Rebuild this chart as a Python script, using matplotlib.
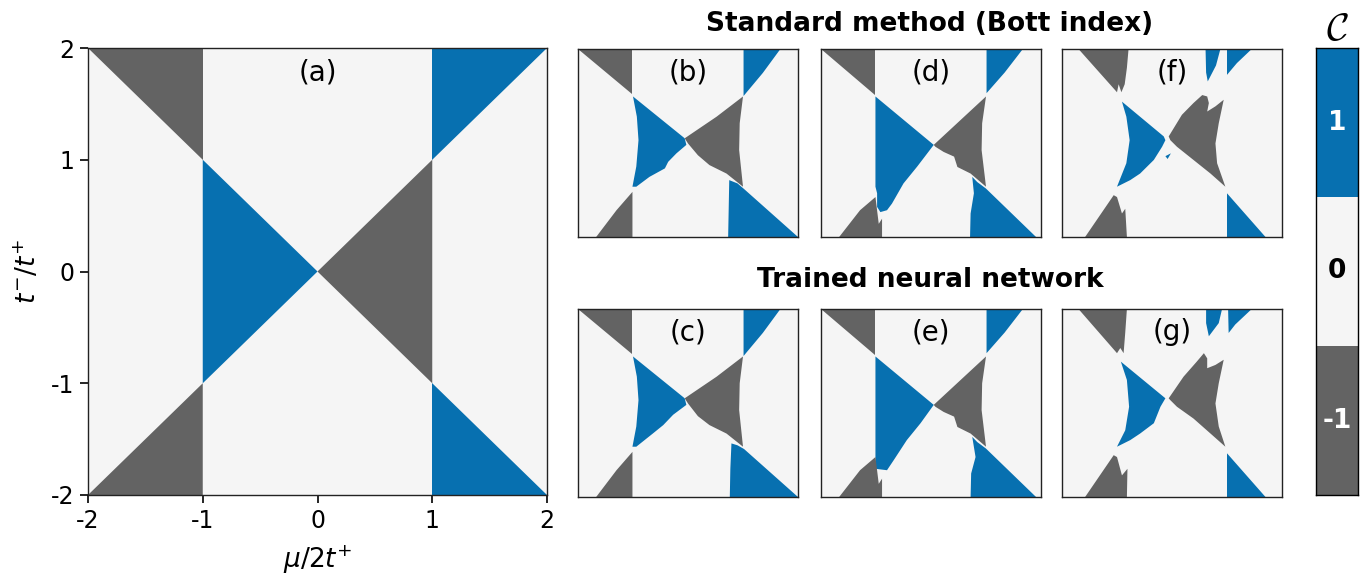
import matplotlib
matplotlib.use("Agg")
import matplotlib.pyplot as plt
from matplotlib.colors import ListedColormap, BoundaryNorm
import numpy as np

# ---------------- data ----------------
chern_levels = [-1, 0, 1]
level_colors = ["#636363", "#f5f5f5", "#0770b0"]
level_labels = ["-1", "0", "1"]

x_ticks = [-2, -1, 0, 1, 2]
y_ticks = [-2, -1, 0, 1, 2]

# Phase regions: (Chern number, x-vertices, y-vertices) in (mu/2t+, t-/t+)
panel_a = [
    (-1, [-2, -1, -1], [2, 2, 1]),
    (1, [1, 1, 2], [1, 2, 2]),
    (1, [-1, 0, -1], [1, 0, -1]),
    (-1, [1, 0, 1], [1, 0, -1]),
    (-1, [-2, -1, -1], [-2, -1, -2]),
    (1, [1, 1, 2], [-1, -2, -2]),
]

panel_b = [
    (-1, [-2, -1.01, -1.01], [2, 2, 1.05]),
    (1, [1.01, 1.68, 1.36, 1.01], [2, 2, 1.49, 1.0]),
    (1, [-1.0, -0.06, -0.03, -0.21, -0.36, -0.42, -0.70, -0.94, -1.01, -0.94, -0.90, -0.93],
        [0.99, 0.10, -0.04, -0.22, -0.40, -0.54, -0.72, -0.93, -0.93, -0.50, 0.06, 0.56]),
    (-1, [-0.06, 0.52, 1.0, 0.94, 0.93, 1.0, 0.70, 0.39, 0.18, 0.0],
         [0.10, 0.56, 0.99, 0.42, -0.15, -0.93, -0.65, -0.47, -0.26, -0.01]),
    (-1, [-1.67, -1.30, -1.01, -1.01], [-2, -1.43, -1.04, -2]),
    (1, [0.75, 0.90, 1.02, 2.0, 0.73, 0.74], [-0.79, -0.86, -0.98, -2, -2, -1.40]),
]

panel_c = [
    (-1, [-2, -1.01, -1.01], [2, 2, 1.05]),
    (1, [1.01, 1.68, 1.36, 1.01], [2, 2, 1.49, 1.0]),
    (1, [-1.0, -0.06, -0.03, -0.27, -0.45, -0.64, -0.94, -1.01, -0.94, -0.90, -0.93],
        [0.99, 0.10, -0.04, -0.25, -0.47, -0.65, -0.93, -0.93, -0.50, 0.06, 0.56]),
    (-1, [-0.06, 0.52, 1.0, 0.94, 0.93, 1.0, 0.70, 0.39, 0.18, 0.0],
         [0.10, 0.56, 0.99, 0.42, -0.15, -0.93, -0.65, -0.47, -0.28, -0.01]),
    (-1, [-1.67, -1.30, -1.01, -1.01], [-2, -1.43, -1.04, -2]),
    (1, [0.79, 0.90, 1.02, 2.0, 0.76, 0.77], [-0.86, -0.90, -0.98, -2, -2, -1.40]),
]

panel_d = [
    (-1, [-2, -1.01, -1.01], [2, 2, 1.02]),
    (1, [1.01, 1.67, 1.34, 1.01], [2, 2, 1.50, 1.06]),
    (1, [-1.01, 0.05, -0.25, -0.50, -0.71, -0.80, -0.92, -0.98, -0.98, -1.01],
        [0.99, -0.04, -0.50, -0.86, -1.29, -1.43, -1.47, -1.36, -1.07, -0.93]),
    (-1, [0.05, 1.0, 0.93, 0.92, 1.0, 0.72, 0.48, 0.42, 0.23, 0.08],
         [-0.04, 0.99, 0.42, -0.15, -0.93, -0.65, -0.51, -0.29, -0.19, -0.08]),
    (-1, [-1.67, -1.29, -1.01, -0.95, -0.89, -0.89], [-2, -1.43, -1.15, -1.72, -1.61, -2]),
    (1, [0.75, 0.84, 1.0, 1.91, 0.71, 0.72, 0.78], [-0.72, -0.83, -0.97, -2, -2, -1.50, -1.07]),
]

panel_e = [
    (-1, [-2, -1.01, -1.01], [2, 2, 1.02]),
    (1, [1.01, 1.67, 1.34, 1.01], [2, 2, 1.50, 1.06]),
    (1, [-1.01, 0.05, -0.19, -0.44, -0.68, -0.80, -1.01, -1.01],
        [0.99, -0.04, -0.43, -0.79, -1.22, -1.43, -1.40, -0.93]),
    (-1, [0.05, 1.0, 0.93, 0.92, 1.0, 0.72, 0.48, 0.42, 0.23, 0.08],
         [-0.04, 0.99, 0.42, -0.15, -0.93, -0.65, -0.51, -0.29, -0.19, -0.08]),
    (-1, [-1.67, -1.29, -1.01, -0.95, -0.89, -0.89], [-2, -1.43, -1.15, -1.72, -1.61, -2]),
    (1, [0.75, 0.84, 1.0, 1.91, 0.72, 0.73, 0.81], [-0.72, -0.83, -0.97, -2, -2, -1.50, -1.15]),
]

panel_f = [
    (-1, [-1.70, -0.79, -0.82, -0.86, -0.92, -0.97, -1.0],
         [2, 2, 1.60, 1.25, 1.08, 1.25, 1.08]),
    (1, [0.61, 0.88, 0.80, 0.65, 0.62], [2, 2, 1.65, 1.31, 1.50]),
    (1, [1.0, 1.45, 1.18, 1.0], [2, 2, 1.70, 1.45]),
    (1, [-0.91, -0.15, -0.12, -0.18, -0.33, -0.58, -0.76, -1.0, -0.83, -0.77, -0.83],
        [0.88, 0.14, 0.06, -0.08, -0.36, -0.65, -0.79, -0.93, -0.43, 0.06, 0.56]),
    (1, [-0.12, -0.02, -0.08], [-0.28, -0.22, -0.34]),
    (-1, [-0.06, 0.18, 0.39, 0.55, 0.64, 0.67, 0.64, 0.79, 0.94, 0.85, 0.79, 0.82, 0.97,
          0.70, 0.39, 0.09, -0.03],
         [0.14, 0.60, 0.85, 1.02, 0.99, 0.85, 0.67, 0.78, 0.92, 0.42, -0.01, -0.43, -0.93,
          -0.65, -0.36, -0.08, 0.06]),
    (-1, [-1.58, -1.06, -1.0, -0.91, -0.85, -0.82], [-2, -1.11, -1.15, -1.50, -1.40, -2]),
    (1, [1.0, 1.70, 1.0], [-1.07, -2, -2]),
]

panel_g = [
    (-1, [-1.70, -0.82, -0.85, -0.88, -0.94, -1.0],
         [2, 2, 1.50, 1.06, 1.17, 1.06]),
    (1, [0.62, 0.91, 0.85, 0.67, 0.62], [2, 2, 1.70, 1.42, 1.70]),
    (1, [1.02, 1.45, 1.15, 1.03], [2, 2, 1.67, 1.49]),
    (1, [-0.93, -0.12, -0.21, -0.33, -0.58, -0.76, -1.0, -0.85, -0.78, -0.82],
        [0.88, 0.10, -0.08, -0.43, -0.65, -0.79, -0.93, -0.58, -0.08, 0.49]),
    (-1, [-0.06, 0.21, 0.45, 0.58, 0.64, 0.64, 0.79, 0.94, 0.85, 0.79, 0.85, 0.97,
          0.70, 0.39, 0.09, -0.03],
         [0.10, 0.56, 0.88, 1.06, 0.95, 0.74, 0.81, 0.92, 0.42, -0.01, -0.50, -0.93,
          -0.65, -0.33, -0.08, 0.06]),
    (-1, [-1.58, -1.06, -1.0, -0.91, -0.81, -0.82], [-2, -1.11, -1.15, -1.54, -1.40, -2]),
    (1, [1.0, 1.70, 1.0], [-1.07, -2, -2]),
]

small_panels = [("(b)", panel_b), ("(d)", panel_d), ("(f)", panel_f),
                ("(c)", panel_c), ("(e)", panel_e), ("(g)", panel_g)]

title_top = "Standard method (Bott index)"
title_bottom = "Trained neural network"

# ---------------- drawing ----------------
plt.rcParams["font.family"] = ["DejaVu Sans"]
plt.rcParams["mathtext.fontset"] = "dejavusans"

W, H = 1369, 574
fig = plt.figure(figsize=(W / 100, H / 100), dpi=100)

color_of = dict(zip(chern_levels, level_colors))


def px_axes(x0, y0, x1, y1):
    return fig.add_axes([x0 / W, 1 - y1 / H, (x1 - x0) / W, (y1 - y0) / H])


def draw_regions(ax, regions):
    ax.set_facecolor(color_of[0])
    for lev, xs, ys in regions:
        ax.fill(xs, ys, color=color_of[lev], lw=0, antialiased=True)
    ax.set_xlim(-2, 2)
    ax.set_ylim(-2, 2)
    for s in ax.spines.values():
        s.set_linewidth(1.0)
        s.set_color("#222222")


# main panel
ax = px_axes(88, 48, 547, 495)
draw_regions(ax, panel_a)
ax.set_xticks(x_ticks)
ax.set_yticks(y_ticks)
ax.set_xticklabels([str(v) for v in x_ticks])
ax.set_yticklabels([str(v) for v in y_ticks])
ax.tick_params(labelsize=17, length=6, width=1.2, pad=4)
ax.set_xlabel(r"$\mu/2t^{+}$", fontsize=19, labelpad=8)
ax.set_ylabel(r"$t^{-}/t^{+}$", fontsize=19, labelpad=6)
ax.text(0, 1.78, "(a)", ha="center", va="center", fontsize=20)

# small panels
lefts = [578, 821, 1062]
tops = [49, 309]
for i, (lab, regions) in enumerate(small_panels):
    r, c = divmod(i, 3)
    x0 = lefts[c]
    y0 = tops[r]
    a = px_axes(x0, y0, x0 + 220, y0 + 188)
    draw_regions(a, regions)
    a.set_xticks([])
    a.set_yticks([])
    a.text(0, 1.5, lab, ha="center", va="center", fontsize=20)

fig.text(930 / W, 1 - 24 / H, title_top, ha="center", va="center",
         fontsize=19, fontweight="bold")
fig.text(930 / W, 1 - 280 / H, title_bottom, ha="center", va="center",
         fontsize=19, fontweight="bold")

# colorbar
cax = px_axes(1316, 48, 1358, 495)
cmap = ListedColormap(level_colors)
norm = BoundaryNorm([-1.5, -0.5, 0.5, 1.5], cmap.N)
cax.pcolormesh([0, 1], [-1.5, -0.5, 0.5, 1.5], np.array(chern_levels).reshape(-1, 1),
               cmap=cmap, norm=norm)
cax.set_xlim(0, 1)
cax.set_ylim(-1.5, 1.5)
cax.set_xticks([])
cax.set_yticks([])
for lev, lab in zip(chern_levels, level_labels):
    cax.text(0.5, lev, lab, ha="center", va="center", fontsize=19, fontweight="bold",
             color="black" if lev == 0 else "white")
for s in cax.spines.values():
    s.set_linewidth(1.0)
cax.set_title(r"$\mathcal{C}$", fontsize=28, pad=2, math_fontfamily="cm")

fig.savefig("out.png", dpi=100)
